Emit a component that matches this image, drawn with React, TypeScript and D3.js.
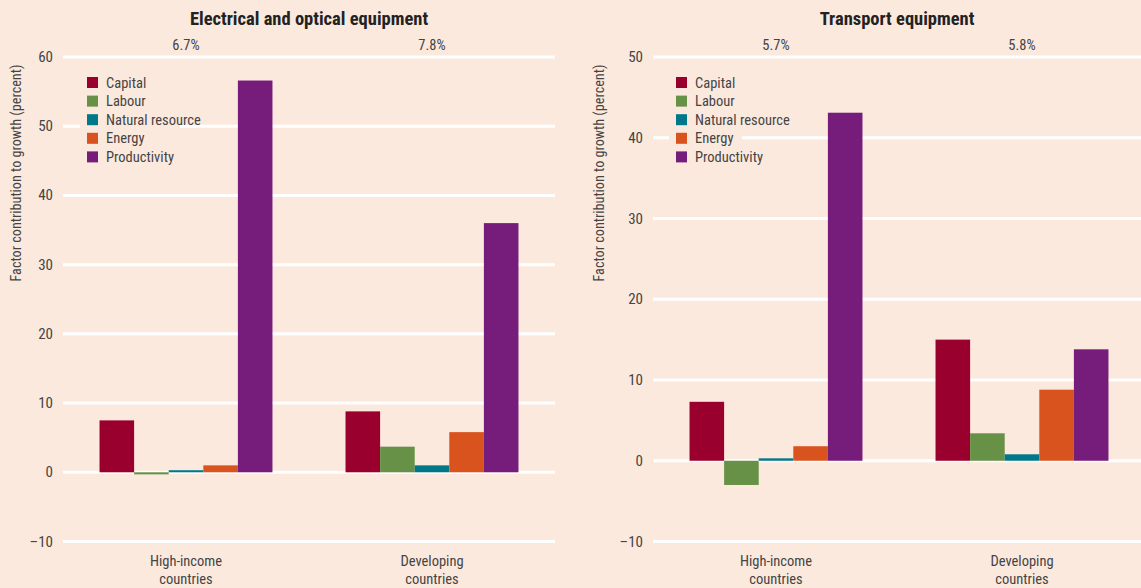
import React from "react";
import * as d3 from "d3";

const factors = ["Capital", "Labour", "Natural resource", "Energy", "Productivity"];
const colors = ["#99002e", "#669146", "#00788a", "#d9531e", "#761c7a"];
const groups = ["High-income countries", "Developing countries"];

const elecHigh = [7.5, -0.3, 0.3, 1.0, 56.6];
const elecDev = [8.8, 3.7, 1.0, 5.8, 36.0];
const transHigh = [7.3, -3.0, 0.3, 1.8, 43.1];
const transDev = [15.0, 3.4, 0.8, 8.8, 13.8];

const elecGrowth = ["6.7%", "7.8%"];
const transGrowth = ["5.7%", "5.8%"];

const elecTicks = [-10, 0, 10, 20, 30, 40, 50, 60];
const transTicks = [-10, 0, 10, 20, 30, 40, 50];

const FONT = "'Liberation Sans Narrow', 'Roboto Condensed', Roboto, Arial, sans-serif";
const BG = "#fce9de";

type PanelProps = {
  title: string;
  growth: string[];
  values: number[][];
  ticks: number[];
  domain: [number, number];
  x0: number;
  x1: number;
  titleX: number;
  axisTitleX: number;
  legendX: number;
  legendW: number;
};

function Panel(p: PanelProps) {
  const y = d3.scaleLinear().domain(p.domain).range([541.5, 57]);
  const xg = d3.scaleBand<string>().domain(groups).range([p.x0, p.x1]).padding(0);
  const xf = d3
    .scaleBand<string>()
    .domain(factors)
    .range([0, xg.bandwidth() * 0.703]);
  const groupOffset = (xg.bandwidth() - xf.range()[1]) / 2;
  const tickX = p.x0 - 10;
  return (
    <g>
      <text x={p.titleX} y={25} textAnchor="middle" fontSize={18.5} fontWeight="bold" fill="#222">
        {p.title}
      </text>
      {groups.map((g, i) => (
        <text key={g} x={(xg(g) as number) + xg.bandwidth() / 2} y={50} textAnchor="middle" fontSize={14.5} fill="#444">
          {p.growth[i]}
        </text>
      ))}
      {p.ticks.map((t) => (
        <g key={t}>
          <line x1={p.x0} x2={p.x1} y1={y(t)} y2={y(t)} stroke="#fff" strokeWidth={3} />
          <text x={tickX} y={y(t) + 5} textAnchor="end" fontSize={15} fill="#444">
            {t < 0 ? "\u2013" + Math.abs(t) : t}
          </text>
        </g>
      ))}
      <text
        transform={`translate(${p.axisTitleX},173) rotate(-90)`}
        textAnchor="middle"
        fontSize={14.2}
        fill="#444"
      >
        Factor contribution to growth (percent)
      </text>
      {groups.map((g, gi) =>
        factors.map((f, fi) => {
          const v = p.values[gi][fi];
          const bx = (xg(g) as number) + groupOffset + (xf(f) as number);
          return (
            <rect
              key={g + f}
              x={bx}
              y={y(Math.max(0, v))}
              width={xf.bandwidth()}
              height={Math.abs(y(v) - y(0))}
              fill={colors[fi]}
            />
          );
        })
      )}
      {groups.map((g) => {
        const cx = (xg(g) as number) + xg.bandwidth() / 2;
        const [a, b] = g.split(" ");
        return (
          <text key={g} textAnchor="middle" fontSize={14.5} fill="#444">
            <tspan x={cx} y={566}>{a}</tspan>
            <tspan x={cx} y={584}>{b}</tspan>
          </text>
        );
      })}
      <rect x={p.legendX - 7} y={70} width={p.legendW} height={100} fill={BG} />
      {factors.map((f, i) => (
        <g key={f} transform={`translate(${p.legendX},${77 + i * 18.6})`}>
          <rect width={11} height={11} fill={colors[i]} />
          <text x={19} y={10.5} fontSize={14.5} fill="#444">
            {f}
          </text>
        </g>
      ))}
    </g>
  );
}

export default function App() {
  return (
    <svg
      width={1141}
      height={588}
      style={{ position: "absolute", left: 0, top: 0, background: BG, fontFamily: FONT }}
    >
      <rect width={1141} height={588} fill={BG} />
      <Panel
        title="Electrical and optical equipment"
        growth={elecGrowth}
        values={[elecHigh, elecDev]}
        ticks={elecTicks}
        domain={[-10, 60]}
        x0={63}
        x1={555}
        titleX={309}
        axisTitleX={21}
        legendX={87}
        legendW={100}
      />
      <Panel
        title="Transport equipment"
        growth={transGrowth}
        values={[transHigh, transDev]}
        ticks={transTicks}
        domain={[-10, 50]}
        x0={653}
        x1={1145}
        titleX={897}
        axisTitleX={604}
        legendX={676}
        legendW={73}
      />
    </svg>
  );
}
